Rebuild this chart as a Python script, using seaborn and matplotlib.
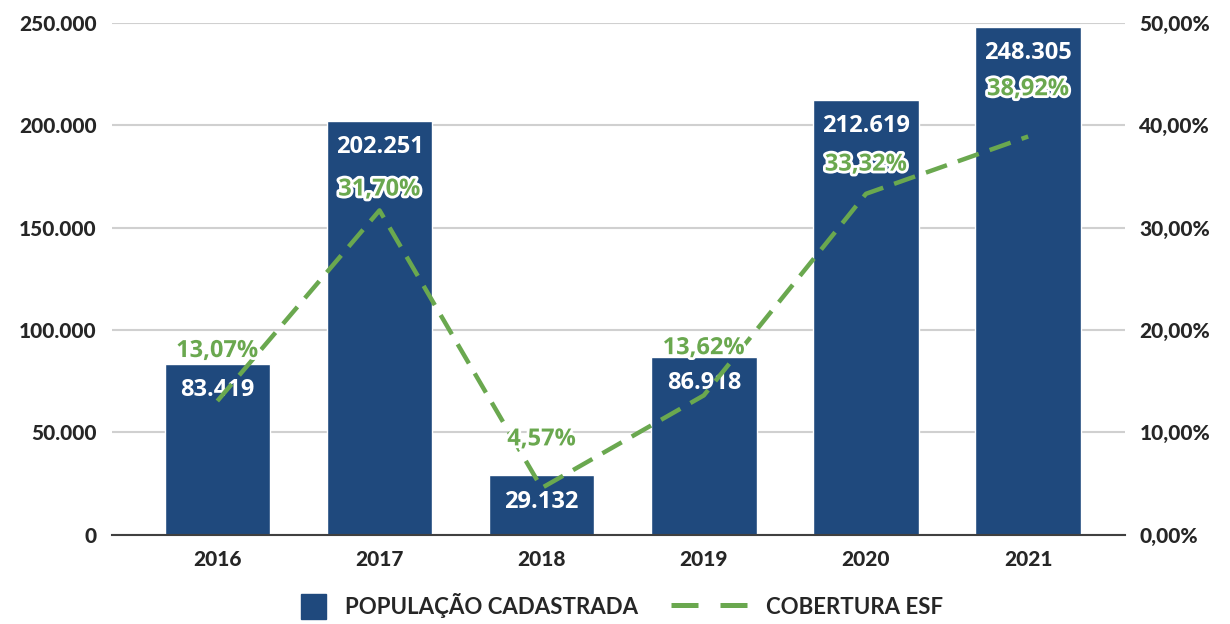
import matplotlib
matplotlib.use("Agg")
import matplotlib.pyplot as plt
import matplotlib.patheffects as pe
from matplotlib.lines import Line2D
from matplotlib.patches import Patch, Rectangle
from matplotlib.legend_handler import HandlerPatch
from matplotlib.ticker import FuncFormatter
import seaborn as sns
import pandas as pd

# ── Data ───────────────────────────────────────────────────────────────────────
anos = ["2016", "2017", "2018", "2019", "2020", "2021"]
populacao = [83419, 202251, 29132, 86918, 212619, 248305]
cobertura = [13.07, 31.70, 4.57, 13.62, 33.32, 38.92]

BLUE = "#1f497d"
GREEN = "#6aa84f"

df = pd.DataFrame({"ano": anos, "pop": populacao, "cob": cobertura})
df["x"] = range(len(df))

sns.set_style("white")
plt.rcParams["font.family"] = ["Lato", "DejaVu Sans"]

fig = plt.figure(figsize=(12.3, 6.24), dpi=100)
ax = fig.add_axes([0.091, 0.143, 0.824, 0.820])

sns.barplot(data=df, x="ano", y="pop", color=BLUE, width=0.65,
            saturation=1, ax=ax, zorder=2)
ax.set_ylim(0, 250000)
ax.set_xlim(-0.65, 5.6)
ax.set_yticks(range(0, 250001, 50000))
ax.yaxis.set_major_formatter(FuncFormatter(lambda v, p: f"{int(v):,}".replace(",", ".")))
ax.grid(axis="y", color="#d0d0d0", linewidth=1.5, zorder=0)
ax.set_axisbelow(True)
for s in ["top", "right", "left"]:
    ax.spines[s].set_visible(False)
ax.spines["bottom"].set_color("#404040")
ax.spines["bottom"].set_linewidth(1.5)
ax.set_xlabel("")
ax.set_ylabel("")
ax.tick_params(axis="both", length=0, labelsize=15, pad=11)
for t in ax.get_xticklabels() + ax.get_yticklabels():
    t.set_fontweight("black")

# value labels inside bars
for i, v in enumerate(populacao):
    ax.annotate(f"{v:,}".replace(",", "."), (i, v), xytext=(0, -19),
                textcoords="offset points", ha="center", va="center",
                color="white", fontsize=17, fontweight="bold", family="Open Sans", zorder=5)

# ── Coverage line on secondary axis ───────────────────────────────────────────
ax2 = ax.twinx()
ax2.set_ylim(0, 50)
sns.lineplot(data=df, x="x", y="cob", color=GREEN, linewidth=3.2, ax=ax2,
             zorder=3, dashes=False)
ax2.lines[0].set_dashes((5, 2.6))
ax2.set_xlim(-0.65, 5.6)
ax2.set_yticks(range(0, 51, 10))
ax2.yaxis.set_major_formatter(FuncFormatter(lambda v, p: f"{v:.2f}%".replace(".", ",")))
for s in ["top", "right", "left", "bottom"]:
    ax2.spines[s].set_visible(False)
ax2.set_xlabel("")
ax2.set_ylabel("")
ax2.tick_params(axis="y", length=0, labelsize=15, pad=10)
for t in ax2.get_yticklabels():
    t.set_fontweight("black")

label_offsets = [36, 15, 35, 34, 21, 34]
for i, (c, off) in enumerate(zip(cobertura, label_offsets)):
    ax2.annotate(f"{c:.2f}%".replace(".", ","), (i, c), xytext=(0, off),
                 textcoords="offset points", ha="center", va="center",
                 color=GREEN, fontsize=17, fontweight="bold", family="Open Sans",
                 path_effects=[pe.withStroke(linewidth=4, foreground="white")], zorder=6)


# ── Legend ────────────────────────────────────────────────────────────────────
def square_handle(legend, orig_handle, xdescent, ydescent, width, height, fontsize):
    size = fontsize * 1.13
    return Rectangle((width - size - xdescent, height / 2 - size / 2 - ydescent), size, size)


handles = [Patch(facecolor=BLUE, edgecolor=BLUE),
           Line2D([0], [0], color=GREEN, linewidth=3.6, dashes=(5.4, 4.4))]
fig.legend(handles, ["POPULAÇÃO CADASTRADA", "COBERTURA ESF"],
           loc="lower center", bbox_to_anchor=(0.485, -0.022), ncol=2, frameon=False,
           prop={"family": "Lato", "weight": "bold", "size": 16},
           handlelength=3.4, handleheight=1.0, columnspacing=1.5, handletextpad=0.85,
           handler_map={Patch: HandlerPatch(patch_func=square_handle)})

plt.savefig("out.png", dpi=100)
